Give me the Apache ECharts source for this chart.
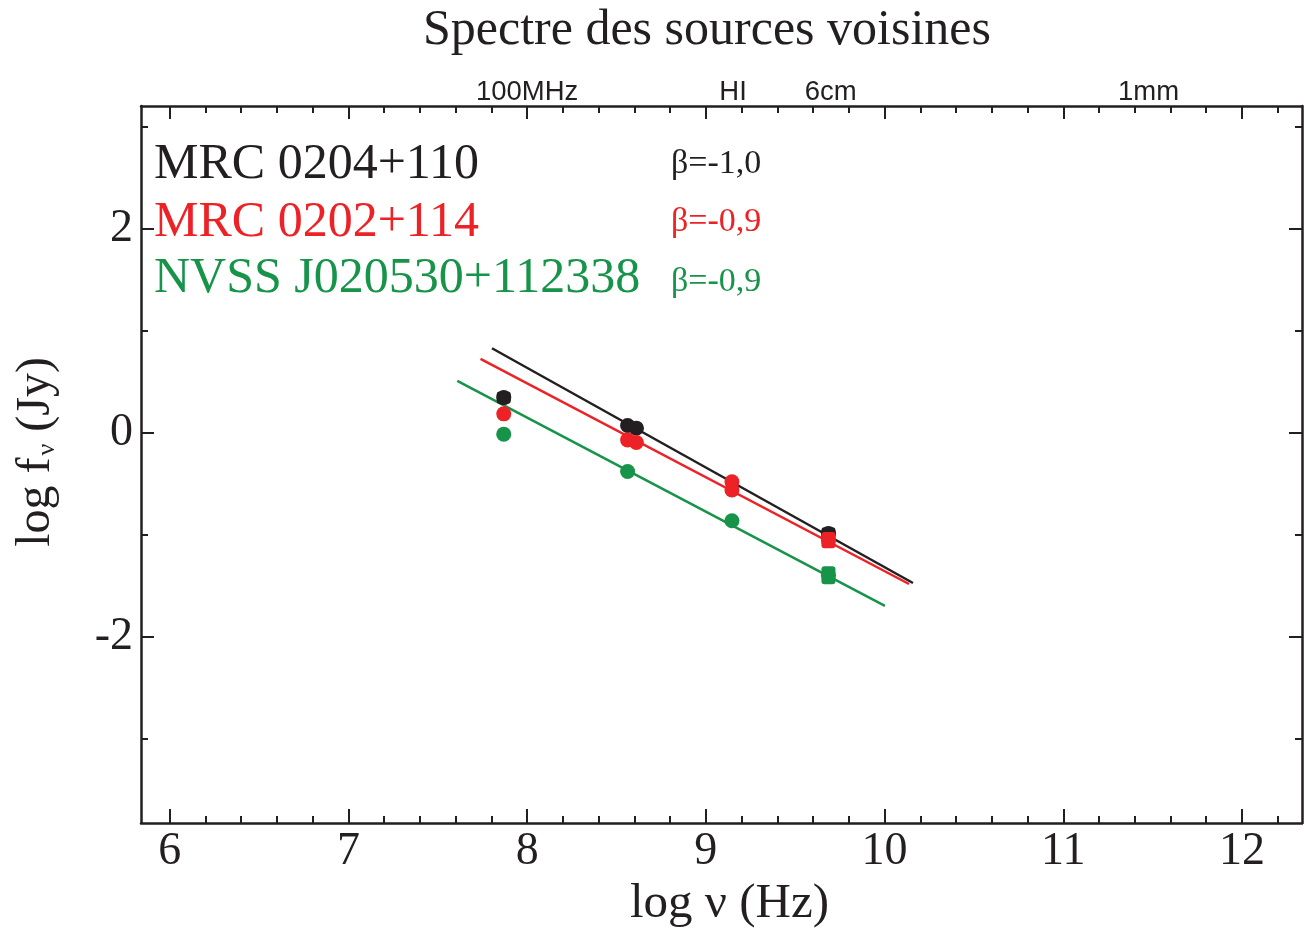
<!DOCTYPE html>
<html>
<head>
<meta charset="utf-8">
<script src="https://cdn.jsdelivr.net/npm/echarts@6/dist/echarts.min.js"></script>
<style>
html,body{margin:0;padding:0;background:#fff;}
#chart{width:1304px;height:928px;}
</style>
</head>
<body>
<div id="chart"></div>
<script>
// ---- data ----
const blackX = [7.869, 8.562, 8.611, 9.686];
const blackY = [0.345, 0.072, 0.046, -0.985];
const blackErr = [0.06, 0.0, 0.04, 0.06];

const redX = [7.869, 8.562, 8.611, 9.146, 9.146, 9.686];
const redY = [0.186, -0.069, -0.095, -0.48, -0.56, -1.05];
const redErr = [0, 0, 0, 0, 0, 0.08];

const greenX = [7.869, 8.562, 9.146, 9.686];
const greenY = [-0.013, -0.379, -0.861, -1.394];
const greenErr = [0.02, 0.02, 0.02, 0.088];

// power-law fits (log-log straight lines)
const fitBlackX = [7.803, 10.159];
const fitBlackY = [0.828, -1.470];
const fitRedX = [7.739, 10.137];
const fitRedY = [0.724, -1.480];
const fitGreenX = [7.609, 10.002];
const fitGreenY = [0.509, -1.695];

const sourceNames = ['MRC 0204+110', 'MRC 0202+114', 'NVSS J020530+112338'];
const betaLabels = ['\u03b2=-1,0', '\u03b2=-0,9', '\u03b2=-0,9'];

// tick labels
const xMajorTicks = [6, 7, 8, 9, 10, 11, 12];
const xMinorTicks = [6.2, 6.4, 6.6, 6.8, 7.2, 7.4, 7.6, 7.8, 8.2, 8.4, 8.6, 8.8,
  9.2, 9.4, 9.6, 9.8, 10.2, 10.4, 10.6, 10.8, 11.2, 11.4, 11.6, 11.8, 12.2];
const yMajorTicks = [-2, 0, 2];
const yMinorTicks = [-3, -1, 1, 3];
const bandValues = [8.0, 9.152, 9.699, 11.477];
const bandLabels = ['100MHz', 'HI', '6cm', '1mm'];

const X_MIN = 5.839, X_MAX = 12.336, Y_MIN = -3.82, Y_MAX = 3.2;

const COL_K = '#231f20', COL_R = '#ec2227', COL_G = '#17934a';
const SERIF = '"Liberation Serif", "Times New Roman", serif';
const SANS = '"Liberation Sans", Arial, sans-serif';

function pts(xs, ys) { return xs.map((x, i) => [x, ys[i]]); }
function errPts(xs, ys, es) { return xs.map((x, i) => [x, ys[i], es[i]]).filter(d => d[2] > 0); }

function errRender(color) {
  return function (params, api) {
    const x = api.value(0), y = api.value(1), e = api.value(2);
    const t = api.coord([x, y + e]);
    const b = api.coord([x, y - e]);
    const hw = 7;
    return {
      type: 'group',
      children: [
        { type: 'rect', shape: { x: t[0] - hw, y: t[1], width: hw * 2, height: b[1] - t[1], r: 3 },
          style: { fill: color } }
      ]
    };
  };
}

const axisLineStyle = { color: COL_K, width: 2.5 };

function xAx(pos, ticks, len, showLine, labelCfg) {
  return {
    type: 'value', position: pos, min: X_MIN, max: X_MAX, gridIndex: 0,
    axisLine: { show: showLine, onZero: false, lineStyle: axisLineStyle },
    axisTick: { show: true, inside: true, length: len, customValues: ticks, lineStyle: { color: COL_K, width: 2 } },
    axisLabel: labelCfg || { show: false },
    splitLine: { show: false }
  };
}
function yAx(pos, ticks, len, showLine, labelCfg) {
  return {
    type: 'value', position: pos, min: Y_MIN, max: Y_MAX, gridIndex: 0,
    axisLine: { show: showLine, onZero: false, lineStyle: axisLineStyle },
    axisTick: { show: true, inside: true, length: len, customValues: ticks, lineStyle: { color: COL_K, width: 2 } },
    axisLabel: labelCfg || { show: false },
    splitLine: { show: false }
  };
}

const chart = echarts.init(document.getElementById('chart'), null, { renderer: 'canvas' });

const option = {
  backgroundColor: '#ffffff',
  animation: false,
  title: {
    text: 'Spectre des sources voisines',
    left: 423, top: 6, padding: 0,
    textStyle: { fontFamily: SERIF, fontSize: 50, fontWeight: 'normal', color: COL_K }
  },
  grid: { left: 141, right: 2, top: 106, bottom: 105, containLabel: false, outerBoundsMode: 'none' },
  xAxis: [
    Object.assign(xAx('bottom', xMajorTicks, 14, true, {
      show: true, customValues: xMajorTicks, margin: 6,
      fontFamily: SERIF, fontSize: 46, color: COL_K
    }), {
      name: 'log \u03bd (Hz)', nameLocation: 'middle', nameGap: 56,
      nameTextStyle: { fontFamily: SERIF, fontSize: 49, color: COL_K, padding: [0, 0, 0, 16] }
    }),
    xAx('bottom', xMinorTicks, 7, false),
    xAx('top', xMajorTicks, 13, true, {
      show: true, customValues: bandValues, margin: 0,
      fontFamily: SANS, fontSize: 27.5, color: COL_K,
      formatter: function (v) {
        const i = bandValues.findIndex(b => Math.abs(b - v) < 1e-6);
        return i >= 0 ? bandLabels[i] : '';
      }
    }),
    xAx('top', xMinorTicks, 7, false)
  ],
  yAxis: [
    yAx('left', yMajorTicks, 13, true, {
      show: true, customValues: yMajorTicks, margin: 8,
      fontFamily: SERIF, fontSize: 46, color: COL_K
    }),
    yAx('left', yMinorTicks, 7, false),
    yAx('right', yMajorTicks, 13, true),
    yAx('right', yMinorTicks, 7, false)
  ],
  graphic: [
    {
      type: 'text', left: 154, top: 140, z: 10,
      style: { text: sourceNames[0], fontFamily: SERIF, fontSize: 50, fill: COL_K }
    },
    {
      type: 'text', left: 154, top: 198, z: 10,
      style: { text: sourceNames[1], fontFamily: SERIF, fontSize: 50, fill: COL_R }
    },
    {
      type: 'text', left: 154, top: 254, z: 10,
      style: { text: sourceNames[2], fontFamily: SERIF, fontSize: 50, fill: COL_G }
    },
    {
      type: 'text', left: 671, top: 147, z: 10,
      style: { text: betaLabels[0], fontFamily: SERIF, fontSize: 34, fill: COL_K }
    },
    {
      type: 'text', left: 671, top: 205, z: 10,
      style: { text: betaLabels[1], fontFamily: SERIF, fontSize: 34, fill: COL_R }
    },
    {
      type: 'text', left: 671, top: 265, z: 10,
      style: { text: betaLabels[2], fontFamily: SERIF, fontSize: 34, fill: COL_G }
    },
    {
      type: 'text', x: 36, y: 452, rotation: Math.PI / 2, z: 10,
      style: {
        text: '{a|log f}{s|\u03bd}{a| (Jy)}',
        align: 'center', verticalAlign: 'middle',
        rich: {
          a: { fontFamily: SERIF, fontSize: 48, fill: COL_K, lineHeight: 48 },
          s: { fontFamily: SERIF, fontSize: 26, fill: COL_K, lineHeight: 48, verticalAlign: 'bottom', padding: [0, 0, 0, 2] }
        }
      }
    }
  ],
  series: [
    { type: 'line', name: 'fitK', data: pts(fitBlackX, fitBlackY), showSymbol: false, symbol: 'none',
      lineStyle: { color: COL_K, width: 2.5 }, z: 2 },
    { type: 'line', name: 'fitR', data: pts(fitRedX, fitRedY), showSymbol: false, symbol: 'none',
      lineStyle: { color: COL_R, width: 2.5 }, z: 2 },
    { type: 'line', name: 'fitG', data: pts(fitGreenX, fitGreenY), showSymbol: false, symbol: 'none',
      lineStyle: { color: COL_G, width: 2.5 }, z: 2 },

    { type: 'custom', name: 'errK', data: errPts(blackX, blackY, blackErr), renderItem: errRender(COL_K), z: 3 },
    { type: 'scatter', name: 'K', data: pts(blackX, blackY), symbol: 'circle', symbolSize: 15,
      itemStyle: { color: COL_K, opacity: 1 }, z: 3 },
    { type: 'custom', name: 'errR', data: errPts(redX, redY, redErr), renderItem: errRender(COL_R), z: 4 },
    { type: 'scatter', name: 'R', data: pts(redX, redY), symbol: 'circle', symbolSize: 15,
      itemStyle: { color: COL_R, opacity: 1 }, z: 4 },
    { type: 'custom', name: 'errG', data: errPts(greenX, greenY, greenErr), renderItem: errRender(COL_G), z: 5 },
    { type: 'scatter', name: 'G', data: pts(greenX, greenY), symbol: 'circle', symbolSize: 15,
      itemStyle: { color: COL_G, opacity: 1 }, z: 5 }
  ]
};

chart.setOption(option);
</script>
</body>
</html>
